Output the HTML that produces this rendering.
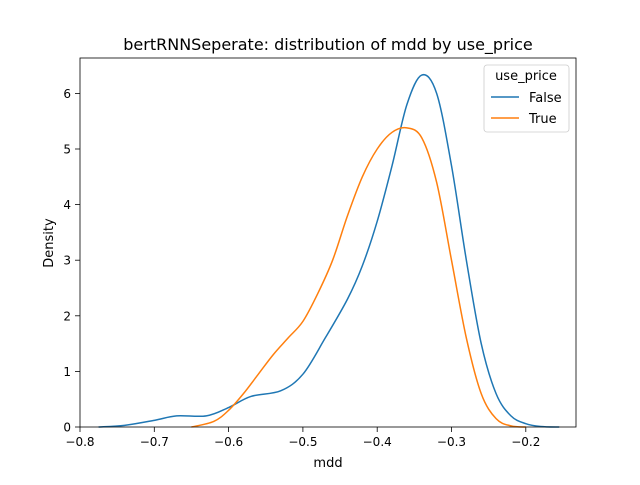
<!DOCTYPE html>
<html><head><meta charset="utf-8"><style>
body{margin:0;background:#fff;}
svg text{font-family:"DejaVu Sans","Liberation Sans",sans-serif;fill:#000;}
</style></head><body>
<svg id="chart" width="640" height="480" viewBox="0 0 640 480">
<rect width="640" height="480" fill="#fff"/>
<text x="328" y="50" font-size="16" text-anchor="middle">bertRNNSeperate: distribution of mdd by use_price</text>
<g id="ticks"></g>
<g id="series"></g>
<rect x="80" y="58" width="496" height="369" fill="none" stroke="#000" stroke-width="0.8"/>
<text x="328" y="467" font-size="13" text-anchor="middle">mdd</text>
<text x="0" y="0" font-size="13" text-anchor="middle" transform="translate(53,243) rotate(-90)">Density</text>
<g>
<rect x="484" y="65" width="85" height="67" rx="3" fill="#fff" stroke="#ccc" stroke-width="0.8"/>
<text x="526" y="80" font-size="13" text-anchor="middle">use_price</text>
<line x1="491" y1="97" x2="519" y2="97" stroke="#1f77b4" stroke-width="1.5"/>
<text x="529" y="102" font-size="13">False</text>
<line x1="491" y1="118" x2="519" y2="118" stroke="#ff7f0e" stroke-width="1.5"/>
<text x="529" y="123" font-size="13">True</text>
</g>
</svg>
<script>
const xTicks=[-0.8,-0.7,-0.6,-0.5,-0.4,-0.3,-0.2];
const yTicks=[0,1,2,3,4,5,6];
const falseX=[-0.775,-0.74,-0.7,-0.67,-0.63,-0.6,-0.57,-0.53,-0.5,-0.47,-0.44,-0.42,-0.4,-0.38,-0.36,-0.34,-0.32,-0.3,-0.28,-0.26,-0.24,-0.22,-0.2,-0.18,-0.155];
const falseY=[0,0.03,0.12,0.2,0.2,0.35,0.55,0.65,0.95,1.6,2.3,2.9,3.7,4.7,5.8,6.33,6.0,4.7,3.0,1.5,0.6,0.2,0.06,0.01,0];
const trueX=[-0.65,-0.62,-0.6,-0.58,-0.56,-0.54,-0.52,-0.5,-0.48,-0.46,-0.44,-0.42,-0.4,-0.38,-0.36,-0.34,-0.32,-0.3,-0.28,-0.26,-0.24,-0.22,-0.2];
const trueY=[0,0.1,0.3,0.6,0.95,1.3,1.6,1.9,2.4,3.0,3.8,4.5,5.0,5.3,5.38,5.2,4.4,3.0,1.6,0.6,0.15,0.02,0];
const sx=v=>80+(v+0.8)/0.1*74.3;
const sy=v=>427-v*55.6;
const NS="http://www.w3.org/2000/svg";
const tg=document.getElementById('ticks');
function mk(tag,attrs,parent){const e=document.createElementNS(NS,tag);for(const k in attrs)e.setAttribute(k,attrs[k]);parent.appendChild(e);return e;}
xTicks.forEach(t=>{const x=sx(t);
const l=mk('line',{x1:x,x2:x,y1:427,y2:432,stroke:'#000','stroke-width':0.8},tg);


const tx=mk('text',{x:x,y:446,'font-size':12,'text-anchor':'middle'},tg);tx.textContent=(t<0?'\u2212':'')+Math.abs(t).toFixed(1);

});
yTicks.forEach(t=>{const y=sy(t);
const l=mk('line',{x1:75,x2:80,y1:y,y2:y,stroke:'#000','stroke-width':0.8},tg);


const tx=mk('text',{x:71,y:y+4.5,'font-size':12,'text-anchor':'end'},tg);tx.textContent=t;

});
function path(xs,ys){const p=xs.map((x,i)=>[sx(x),sy(ys[i])]);let d='M'+p[0][0]+','+p[0][1];
for(let i=0;i<p.length-1;i++){const p0=p[Math.max(0,i-1)],p1=p[i],p2=p[i+1],p3=p[Math.min(p.length-1,i+2)];
d+=' C'+(p1[0]+(p2[0]-p0[0])/6)+','+(p1[1]+(p2[1]-p0[1])/6)+' '+(p2[0]-(p3[0]-p1[0])/6)+','+(p2[1]-(p3[1]-p1[1])/6)+' '+p2[0]+','+p2[1];}
return d;}
const sg=document.getElementById('series');
const pf=mk('path',{d:path(falseX,falseY),fill:'none',stroke:'#1f77b4','stroke-width':1.5},sg);


const pt=mk('path',{d:path(trueX,trueY),fill:'none',stroke:'#ff7f0e','stroke-width':1.5},sg);


</script>
</body></html>
